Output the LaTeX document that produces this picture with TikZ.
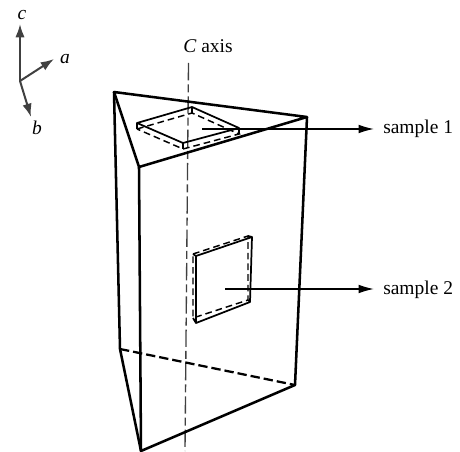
\documentclass[tikz,border=0pt]{standalone}
\usepackage{fontspec}
\setmainfont{Liberation Serif}
\usepackage{tikz}
\usetikzlibrary{positioning,arrows.meta}
\tikzset{
	edgeline/.style={line width=1.9pt,line join=round},
	hiddenline/.style={line width=1.7pt,dash pattern=on 7pt off 3pt},
	platesolid/.style={line width=1.3pt,line join=round},
	platedash/.style={line width=1.1pt,dash pattern=on 5pt off 3pt},
	axisline/.style={line width=1pt,black!75,dash pattern=on 13pt off 3pt on 6pt off 3pt},
	leader/.style={line width=1.1pt,-{Latex[length=11.5pt,width=6.5pt]}},
	frameline/.style={line width=1.5pt,black!75,-{Latex[length=10pt,width=7pt]}},
	tag/.style={font=\fontsize{14.6}{16}\selectfont,inner sep=0pt}
}
\begin{document}
\begin{tikzpicture}[x=0.75pt,y=-0.75pt]
	\useasboundingbox (0,0) rectangle (460,452);
	
	% prism corners
	\coordinate (topL) at (114,92);
	\coordinate (topR) at (307,117);
	\coordinate (topF) at (139,167);
	\coordinate (botL) at (120,349);
	\coordinate (botR) at (295,385);
	\coordinate (botF) at (141,451);
	
	% C axis goes first, it passes behind everything
	\node[tag,anchor=base west] (axislabel) at (183,53) {\textit{C} axis};
	\coordinate (axistop) at (188.5,63);
	\coordinate (axisbot) at (185,451);
	\draw[axisline] (axistop) -- (axisbot);
	
	\draw[edgeline] (topL) -- (topR) -- (topF) -- cycle;
	\draw[edgeline] (topL) -- (botL) -- (botF) -- (botR) -- (topR);
	\draw[edgeline] (topF) -- (botF);
	\draw[hiddenline] (botL) -- (botR);
	
	% sample on the top face
	\coordinate (oneL) at (137,123);
	\coordinate (oneT) at (192,107);
	\coordinate (oneR) at (239,128);
	\coordinate (oneB) at (183,143);
	\draw[platesolid] (oneL) -- (oneT) -- (oneR) -- (oneB) -- cycle;
	\draw[platedash] ([yshift=-4.5]oneL) -- ([yshift=-4.5]oneT) -- ([yshift=-4.5]oneR) -- ([yshift=-4.5]oneB) -- cycle;
	\foreach \corner in {oneL,oneT,oneR,oneB}
	{
		\draw[platesolid] (\corner) -- ([yshift=-4.5]\corner);
	}
	
	% sample on the side face
	\coordinate (twoA) at (196,256);
	\coordinate (twoB) at (252,237);
	\coordinate (twoC) at (250,302);
	\coordinate (twoD) at (196,323);
	\coordinate (backA) at (193,254);
	\coordinate (backB) at (248,236);
	\coordinate (backC) at (248,300);
	\coordinate (backD) at (193,318);
	\draw[platesolid] (twoA) -- (twoB) -- (twoC) -- (twoD) -- cycle;
	\draw[platedash] (backA) -- (backB) -- (backC) -- (backD) -- cycle;
	\draw[platesolid] (twoA) -- (backA);
	\draw[platesolid] (twoB) -- (backB);
	\draw[platesolid] (twoC) -- (backC);
	\draw[platesolid] (twoD) -- (backD);
	
	% labels and leaders
	\node[tag,anchor=base west] (sampleone) at (383,134) {sample 1};
	\node[tag,anchor=base west] (sampletwo) at (383,294) {sample 2};
	\coordinate (onestart) at (202,129);
	\coordinate (onetip) at (374,129);
	\coordinate (twostart) at (225,289);
	\coordinate (twotip) at (374,289);
	\draw[leader] (onestart) -- (onetip);
	\draw[leader] (twostart) -- (twotip);
	
	% crystal frame
	\coordinate (origin) at (20,81);
	\coordinate (ctip) at (20,24);
	\coordinate (atip) at (54,59);
	\coordinate (btip) at (31,117);
	\draw[frameline] (origin) -- (ctip);
	\draw[frameline] (origin) -- (atip);
	\draw[frameline] (origin) -- (btip);
	\node[tag,anchor=center] (clabel) at (22,15) {\textit{c}};
	\node[tag,anchor=center] (alabel) at (65,59) {\textit{a}};
	\node[tag,anchor=center] (blabel) at (37,128) {\textit{b}};
	
\end{tikzpicture}
\end{document}
